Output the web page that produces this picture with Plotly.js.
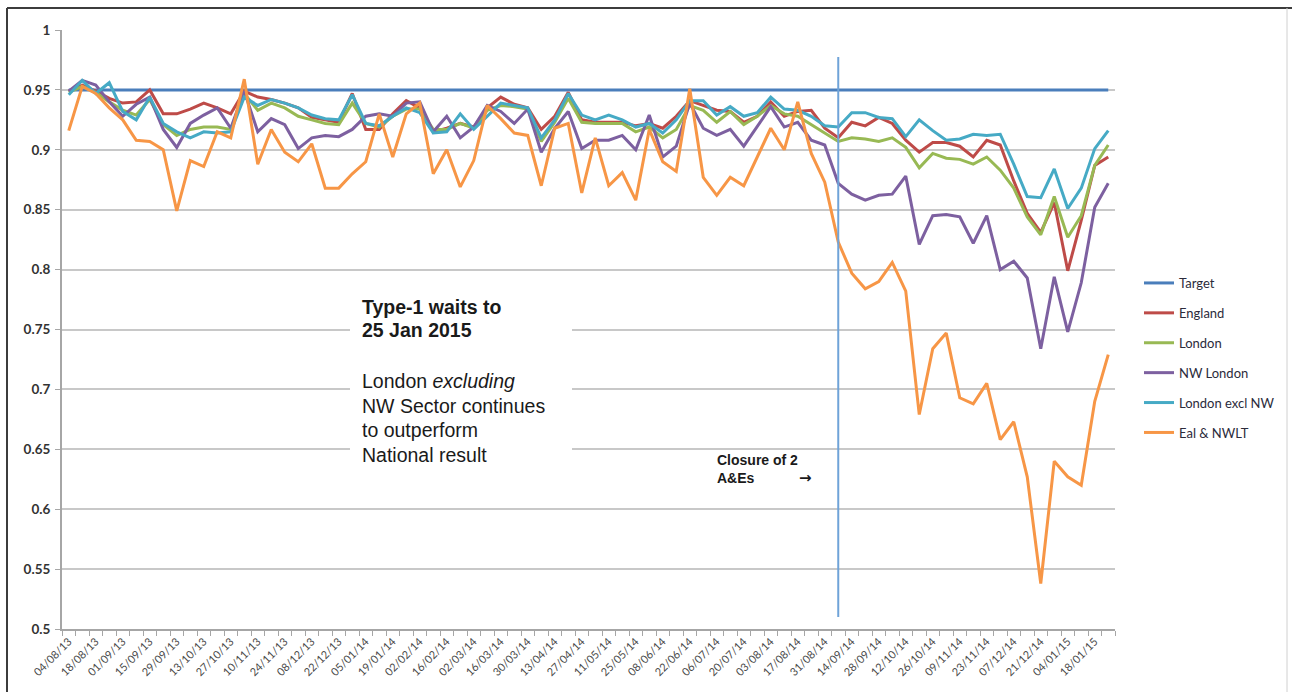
<!DOCTYPE html>
<html>
<head>
<meta charset="utf-8">
<script src="https://cdn.plot.ly/plotly-3.0.1.min.js"></script>
<style>html,body{margin:0;padding:0;background:#fff;}#chart{width:1292px;height:692px;}</style>
</head>
<body>
<div id="chart"></div>
<script>
// ---- DATA ----
const weeks = ['04/08/13','11/08/13','18/08/13','25/08/13','01/09/13','08/09/13','15/09/13','22/09/13','29/09/13','06/10/13',
'13/10/13','20/10/13','27/10/13','03/11/13','10/11/13','17/11/13','24/11/13','01/12/13','08/12/13','15/12/13',
'22/12/13','29/12/13','05/01/14','12/01/14','19/01/14','26/01/14','02/02/14','09/02/14','16/02/14','23/02/14',
'02/03/14','09/03/14','16/03/14','23/03/14','30/03/14','06/04/14','13/04/14','20/04/14','27/04/14','04/05/14',
'11/05/14','18/05/14','25/05/14','01/06/14','08/06/14','15/06/14','22/06/14','29/06/14','06/07/14','13/07/14',
'20/07/14','27/07/14','03/08/14','10/08/14','17/08/14','24/08/14','31/08/14','07/09/14','14/09/14','21/09/14',
'28/09/14','05/10/14','12/10/14','19/10/14','26/10/14','02/11/14','09/11/14','16/11/14','23/11/14','30/11/14',
'07/12/14','14/12/14','21/12/14','28/12/14','04/01/15','11/01/15','18/01/15','25/01/15'];

const targetValue = 0.95;

const england = [0.949,0.954,0.949,0.943,0.939,0.940,0.950,0.930,0.930,0.934,
0.939,0.935,0.930,0.949,0.944,0.942,0.939,0.935,0.927,0.925,
0.923,0.947,0.917,0.917,0.930,0.941,0.935,0.915,0.918,0.922,
0.919,0.935,0.944,0.938,0.935,0.917,0.928,0.948,0.925,0.923,
0.923,0.923,0.920,0.922,0.918,0.928,0.941,0.937,0.933,0.932,
0.923,0.928,0.940,0.928,0.932,0.933,0.918,0.910,0.923,0.920,
0.927,0.922,0.908,0.898,0.906,0.906,0.903,0.894,0.908,0.904,
0.874,0.847,0.831,0.856,0.799,0.841,0.887,0.894];

const london = [0.948,0.953,0.948,0.940,0.933,0.929,0.942,0.921,0.912,0.917,
0.919,0.919,0.917,0.947,0.933,0.939,0.935,0.928,0.925,0.922,
0.921,0.939,0.922,0.919,0.928,0.934,0.934,0.917,0.917,0.922,
0.918,0.933,0.937,0.936,0.934,0.907,0.923,0.943,0.923,0.922,
0.922,0.922,0.915,0.919,0.910,0.917,0.937,0.933,0.923,0.932,
0.921,0.928,0.937,0.930,0.928,0.921,0.914,0.907,0.910,0.909,
0.907,0.910,0.902,0.885,0.897,0.893,0.892,0.888,0.894,0.883,
0.868,0.844,0.829,0.861,0.827,0.845,0.887,0.904];

const nwLondon = [0.949,0.958,0.954,0.940,0.928,0.938,0.944,0.917,0.902,0.922,
0.929,0.935,0.918,0.949,0.915,0.926,0.921,0.901,0.910,0.912,
0.911,0.917,0.928,0.930,0.928,0.939,0.940,0.915,0.928,0.910,
0.919,0.937,0.932,0.922,0.934,0.898,0.918,0.932,0.901,0.908,
0.908,0.912,0.900,0.929,0.894,0.903,0.939,0.918,0.912,0.917,
0.903,0.919,0.936,0.919,0.923,0.908,0.904,0.872,0.863,0.858,
0.862,0.863,0.878,0.821,0.845,0.846,0.844,0.822,0.845,0.800,
0.807,0.793,0.734,0.794,0.748,0.789,0.852,0.872];

const londonExclNW = [0.946,0.958,0.947,0.956,0.932,0.925,0.944,0.922,0.915,0.910,
0.915,0.914,0.915,0.944,0.937,0.942,0.939,0.935,0.929,0.926,
0.925,0.946,0.922,0.920,0.928,0.935,0.931,0.914,0.915,0.930,
0.917,0.928,0.939,0.937,0.935,0.910,0.925,0.947,0.929,0.925,
0.929,0.925,0.919,0.922,0.914,0.925,0.941,0.941,0.929,0.936,
0.928,0.931,0.944,0.934,0.933,0.928,0.920,0.919,0.931,0.931,
0.927,0.926,0.911,0.925,0.916,0.908,0.909,0.913,0.912,0.913,
0.888,0.861,0.860,0.884,0.851,0.868,0.901,0.916];

const ealNWLT = [0.916,0.953,0.947,0.935,0.925,0.908,0.907,0.900,0.849,0.891,
0.886,0.915,0.910,0.959,0.888,0.917,0.898,0.890,0.905,0.868,
0.868,0.880,0.890,0.930,0.894,0.930,0.939,0.880,0.900,0.869,
0.891,0.937,0.926,0.914,0.912,0.870,0.918,0.922,0.864,0.910,
0.870,0.881,0.858,0.917,0.890,0.882,0.951,0.877,0.862,0.877,
0.870,0.894,0.918,0.900,0.940,0.897,0.873,0.823,0.797,0.784,
0.790,0.806,0.782,0.679,0.734,0.747,0.693,0.688,0.705,0.658,
0.673,0.627,0.538,0.640,0.627,0.620,0.690,0.729];

const seriesNames = ['Target','England','London','NW London','London excl NW','Eal & NWLT'];
const yTickVals = [0.5,0.55,0.6,0.65,0.7,0.75,0.8,0.85,0.9,0.95,1];
const yTickText = ['0.5','0.55','0.6','0.65','0.7','0.75','0.8','0.85','0.9','0.95','1'];
const closureWeek = '07/09/14';

// ---- STYLE ----
const colors = ['#4a7ebb','#be4b48','#98b954','#7d60a0','#46aac5','#f79646'];
const target = weeks.map(() => targetValue);
const values = [target, england, london, nwLondon, londonExclNW, ealNWLT];

const traces = values.map((v, k) => ({
  type: 'scatter', mode: 'lines', x: weeks, y: v, name: seriesNames[k],
  legendgroup: 'g' + k,
  line: {color: colors[k], width: 3}
}));

// pixel helpers for layout placement (plot area 62..1115 x, 30..629 y)
const L = 62, R = 1115, T = 30, B = 629;
const px = p => (p - L) / (R - L);
const py = p => (B - p) / (B - T);

const ann = (text, x, y, size, bold, extra) => Object.assign({
  xref: 'paper', yref: 'paper', x: px(x), y: py(y), xanchor: 'left', yanchor: 'middle',
  showarrow: false, text: bold ? '<b>' + text + '</b>' : text,
  font: {family: 'Liberation Sans, Arial, sans-serif', size: size, color: '#1a1a1a'}
}, extra || {});

const tickText = weeks.map((w, i) => i % 2 === 0 ? w : '');

const layout = {
  width: 1292, height: 692,
  margin: {l: L, r: 1292 - R, t: T, b: 692 - B},
  paper_bgcolor: '#ffffff', plot_bgcolor: '#ffffff',
  showlegend: true,
  legend: {
    x: px(1139), y: py(268), xanchor: 'left', yanchor: 'top',
    font: {family: 'Lato, Carlito, sans-serif', size: 13, color: '#2b2b3b'},
    tracegroupgap: 10, itemwidth: 30, bgcolor: 'rgba(0,0,0,0)'
  },
  xaxis: {
    type: 'category', range: [-0.5, weeks.length - 0.5],
    tickmode: 'array', tickvals: weeks, ticktext: tickText, tickson: 'boundaries',
    tickangle: -45, ticks: 'outside', ticklen: 5, tickcolor: '#a6a6a6', tickwidth: 1,
    showline: true, linecolor: '#a6a6a6', linewidth: 2, showgrid: false, zeroline: false,
    tickfont: {family: 'Lato, Carlito, sans-serif', size: 11, color: '#4a4a4a'}
  },
  yaxis: {
    range: [0.5, 1], tickmode: 'array', tickvals: yTickVals, ticktext: yTickText,
    ticks: 'outside', ticklen: 5, tickcolor: '#a6a6a6', ticklabelstandoff: 2,
    showline: true, linecolor: '#a6a6a6', linewidth: 2,
    showgrid: true, gridcolor: '#c8c8c8', gridwidth: 2, zeroline: false,
    tickfont: {family: 'Lato, Carlito, sans-serif', size: 13.5, color: '#333', weight: 'bold'}
  },
  shapes: [
    // white text box covering gridlines
    {type: 'rect', xref: 'paper', yref: 'paper', x0: px(350), x1: px(572), y0: py(470), y1: py(288),
     fillcolor: '#ffffff', line: {width: 0}, layer: 'above'},
    // closure marker line
    {type: 'line', xref: 'x', yref: 'paper', x0: weeks.indexOf(closureWeek), x1: weeks.indexOf(closureWeek),
     y0: py(617), y1: py(57), line: {color: '#6fa3d8', width: 2}},
    // screenshot frame
    {type: 'line', xref: 'paper', yref: 'paper', x0: px(7), x1: px(1292), y0: py(8), y1: py(8), line: {color: '#3c3c3c', width: 2}},
    {type: 'line', xref: 'paper', yref: 'paper', x0: px(7), x1: px(7), y0: py(8), y1: py(692), line: {color: '#3c3c3c', width: 2}},
    {type: 'line', xref: 'paper', yref: 'paper', x0: px(1287), x1: px(1287), y0: py(8), y1: py(692), line: {color: '#d0d0d0', width: 1}}
  ],
  annotations: [
    ann('Type-1 waits to', 360, 307, 19.5, true),
    ann('25 Jan 2015', 360, 330, 19.5, true),
    ann('London <i>excluding</i>', 360, 381, 19.5, false),
    ann('NW Sector continues', 360, 406, 19.5, false),
    ann('to outperform', 360, 430, 19.5, false),
    ann('National result', 360, 455, 19.5, false),
    ann('Closure of 2', 715, 460, 14, true),
    ann('A&Es', 715, 478, 14, true),
    ann('\u2192', 797, 478, 15, true, {font: {family: 'DejaVu Sans, sans-serif', size: 15, color: '#1a1a1a'}})
  ]
};

Plotly.newPlot('chart', traces, layout, {displayModeBar: false, staticPlot: true});
</script>
</body>
</html>
